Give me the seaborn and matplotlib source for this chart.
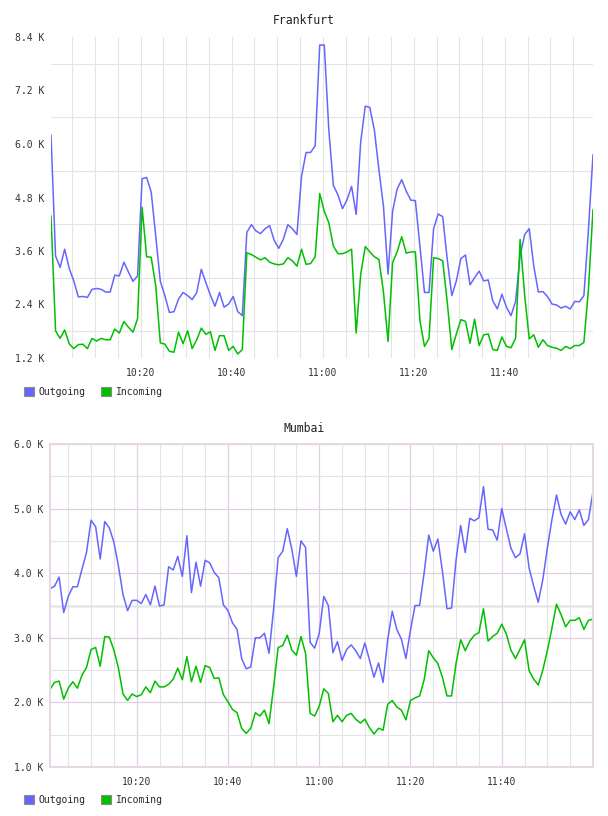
import matplotlib
matplotlib.use("Agg")
import numpy as np
import pandas as pd
import seaborn as sns
import matplotlib.pyplot as plt
import matplotlib.dates as mdates
from matplotlib.patches import Patch
from matplotlib.ticker import FixedLocator, FuncFormatter

# traffic in K, one sample per minute
fra_start = "2024-01-01 10:00:20"
fra_out = [6.20, 3.49, 3.23, 3.64, 3.21, 2.93, 2.57, 2.58, 2.56, 2.74,
           2.76, 2.74, 2.68, 2.68, 3.06, 3.04, 3.35, 3.13, 2.92, 3.04,
           5.22, 5.25, 4.92, 3.93, 2.92, 2.60, 2.22, 2.24, 2.52, 2.67,
           2.60, 2.51, 2.67, 3.19, 2.89, 2.61, 2.36, 2.67, 2.34, 2.41,
           2.58, 2.24, 2.15, 4.02, 4.19, 4.05, 3.99, 4.10, 4.17, 3.84,
           3.66, 3.86, 4.19, 4.10, 3.97, 5.27, 5.81, 5.81, 5.96,
           8.22, 8.22, 6.31, 5.07, 4.86, 4.55, 4.75, 5.05, 4.42, 6.05,
           6.85, 6.82, 6.31, 5.42, 4.60, 3.08, 4.49, 4.99, 5.20, 4.94,
           4.74, 4.73, 3.71, 2.67, 2.67, 4.10, 4.43, 4.37, 3.41, 2.60,
           2.93, 3.43, 3.51, 2.84, 3.00, 3.15, 2.93, 2.95, 2.48, 2.30,
           2.63, 2.34, 2.15, 2.47, 3.49, 3.97, 4.10, 3.26, 2.68, 2.69,
           2.58, 2.41, 2.39, 2.32, 2.36, 2.30, 2.47, 2.46, 2.60, 4.08, 5.76]
fra_in = [4.39, 1.81, 1.64, 1.83, 1.52, 1.41, 1.50, 1.51, 1.41, 1.64,
          1.58, 1.64, 1.61, 1.61, 1.85, 1.76, 2.02, 1.89, 1.78, 2.08,
          4.58, 3.47, 3.46, 2.82, 1.54, 1.51, 1.35, 1.33, 1.78, 1.52,
          1.81, 1.41, 1.61, 1.87, 1.73, 1.79, 1.37, 1.70, 1.70, 1.37,
          1.46, 1.29, 1.39, 3.56, 3.52, 3.46, 3.40, 3.45, 3.35, 3.31,
          3.29, 3.31, 3.45, 3.38, 3.26, 3.64, 3.30, 3.32, 3.47,
          4.89, 4.49, 4.23, 3.71, 3.54, 3.54, 3.58, 3.64, 1.76, 3.08,
          3.70, 3.58, 3.47, 3.41, 2.67, 1.57, 3.34, 3.58, 3.92, 3.55,
          3.58, 3.58, 2.04, 1.46, 1.64, 3.45, 3.43, 3.38, 2.45, 1.39,
          1.74, 2.06, 2.02, 1.53, 2.07, 1.48, 1.72, 1.74, 1.39, 1.37,
          1.67, 1.46, 1.43, 1.64, 3.86, 2.60, 1.63, 1.72, 1.44, 1.61,
          1.48, 1.44, 1.42, 1.37, 1.46, 1.41, 1.48, 1.48, 1.55, 2.74, 4.53]

mum_start = "2024-01-01 10:01:00"
mum_out = [3.76, 3.80, 3.94, 3.39, 3.64, 3.79, 3.79, 4.06, 4.32, 4.82,
           4.72, 4.22, 4.80, 4.70, 4.48, 4.11, 3.67, 3.42, 3.58, 3.58,
           3.53, 3.67, 3.51, 3.80, 3.49, 3.51, 4.10, 4.05, 4.26, 3.95,
           4.58, 3.70, 4.17, 3.80, 4.20, 4.16, 4.01, 3.93, 3.51, 3.42,
           3.23, 3.13, 2.68, 2.52, 2.55, 3.00, 3.00, 3.07, 2.76, 3.44,
           4.24, 4.34, 4.69, 4.37, 3.95, 4.50, 4.40, 2.93,
           2.84, 3.07, 3.64, 3.50, 2.77, 2.94, 2.65, 2.82, 2.89, 2.80,
           2.68, 2.92, 2.66, 2.39, 2.61, 2.31, 2.97, 3.41, 3.13, 2.98,
           2.68, 3.12, 3.50, 3.50, 4.01, 4.59, 4.34, 4.53, 4.03, 3.45,
           3.46, 4.21, 4.74, 4.32, 4.85, 4.81, 4.86, 5.34, 4.68, 4.67,
           4.51, 5.00, 4.69, 4.39, 4.24, 4.30, 4.61, 4.08, 3.80, 3.55,
           3.90, 4.39, 4.83, 5.21, 4.91, 4.76, 4.95, 4.83, 4.98, 4.74, 4.83, 5.26]
mum_in = [2.20, 2.31, 2.33, 2.05, 2.22, 2.32, 2.22, 2.42, 2.54, 2.82,
          2.85, 2.56, 3.02, 3.01, 2.81, 2.53, 2.13, 2.03, 2.13, 2.09,
          2.12, 2.24, 2.15, 2.33, 2.24, 2.24, 2.28, 2.36, 2.53, 2.35,
          2.71, 2.32, 2.56, 2.31, 2.57, 2.54, 2.37, 2.38, 2.12, 2.01,
          1.89, 1.84, 1.60, 1.52, 1.60, 1.84, 1.79, 1.88, 1.67, 2.24,
          2.85, 2.88, 3.04, 2.81, 2.73, 3.02, 2.76, 1.83,
          1.79, 1.94, 2.21, 2.14, 1.70, 1.80, 1.70, 1.80, 1.83, 1.74,
          1.68, 1.74, 1.61, 1.51, 1.60, 1.57, 1.97, 2.03, 1.93, 1.88,
          1.73, 2.03, 2.07, 2.10, 2.35, 2.80, 2.69, 2.60, 2.39, 2.10,
          2.10, 2.61, 2.97, 2.80, 2.95, 3.04, 3.08, 3.45, 2.95, 3.02,
          3.07, 3.21, 3.06, 2.81, 2.68, 2.82, 2.97, 2.49, 2.36, 2.27,
          2.50, 2.80, 3.15, 3.52, 3.36, 3.17, 3.27, 3.27, 3.31, 3.13, 3.27, 3.29]

tick_labels = ["10:20", "10:40", "11:00", "11:20", "11:40"]
series = ["Outgoing", "Incoming"]
colors = ["#6666ff", "#00c000"]

sns.set_theme(style="white")
plt.rcParams["font.family"] = ["DejaVu Sans Mono"]

GREY = "#e4e4e4"
PURPLE = "#e2d0e2"


def panel(ax, start, out, inc, ylo, yhi, ystep, purple):
    t = pd.date_range(start, periods=len(out), freq="min")
    df = pd.DataFrame({"time": list(t) * 2, "value": out + inc,
                       "series": [series[0]] * len(out) + [series[1]] * len(inc)})
    sns.lineplot(data=df, x="time", y="value", hue="series", hue_order=series,
                 palette=colors, ax=ax, linewidth=1.1, legend=False)
    ax.set_xlim(t[0], t[-1])
    ax.set_ylim(ylo, yhi)
    ax.set_xlabel("")
    ax.set_ylabel("")

    day = t[0].normalize()
    major = [day + pd.Timedelta(hours=int(s[:2]), minutes=int(s[3:])) for s in tick_labels]
    ax.xaxis.set_major_locator(FixedLocator(mdates.date2num(major)))
    ax.xaxis.set_major_formatter(mdates.DateFormatter("%H:%M"))
    ax.xaxis.set_minor_locator(mdates.MinuteLocator(byminute=range(0, 60, 5)))

    yt = np.round(np.arange(ylo, yhi + 1e-6, ystep), 2)
    ax.yaxis.set_major_locator(FixedLocator(yt))
    ax.yaxis.set_minor_locator(FixedLocator(yt[:-1] + ystep / 2))
    ax.yaxis.set_major_formatter(FuncFormatter(lambda v, p: f"{v:.1f} K"))

    ax.tick_params(which="both", length=0, labelsize=7, labelcolor="#333333")
    ax.tick_params(axis="y", pad=5)
    ax.tick_params(axis="x", pad=7)
    ax.set_axisbelow(True)
    ax.grid(False)
    if purple:
        ax.xaxis.grid(True, which="major", color=PURPLE, lw=0.9)
        ax.yaxis.grid(True, which="major", color=PURPLE, lw=0.9)
        ax.xaxis.grid(True, which="minor", color=GREY, lw=0.8)
        ax.yaxis.grid(True, which="minor", color=GREY, lw=0.8)
        ax.axhline(3.5, color="#eeeeee", lw=2, zorder=0)
        for s in ax.spines.values():
            s.set_visible(True)
            s.set_color("#e6d8e6")
            s.set_linewidth(1.5)
    else:
        ax.xaxis.grid(True, which="both", color=GREY, lw=0.8)
        ax.yaxis.grid(True, which="minor", color=GREY, lw=0.8)
        for s in ax.spines.values():
            s.set_visible(False)


fig = plt.figure(figsize=(6.08, 8.16), dpi=100)
ax1 = fig.add_axes([51 / 608, 1 - 358 / 816, 542 / 608, 321 / 816])
ax2 = fig.add_axes([50 / 608, 1 - 767 / 816, 543 / 608, 323 / 816])

panel(ax1, fra_start, fra_out, fra_in, 1.2, 8.4, 1.2, False)
panel(ax2, mum_start, mum_out, mum_in, 1.0, 6.0, 1.0, True)

fig.text(0.5, 1 - 20 / 816, "Frankfurt", ha="center", va="center", fontsize=8.3, color="#222222")
fig.text(0.5, 1 - 429 / 816, "Mumbai", ha="center", va="center", fontsize=8.3, color="#222222")

handles = [Patch(facecolor=c, edgecolor="#8a8a8a", linewidth=0.8) for c in colors]
for yc in (392, 800):
    fig.legend(handles, series, loc="center left", bbox_to_anchor=(24 / 608, 1 - yc / 816),
               ncol=2, frameon=False, prop={"size": 7}, handlelength=1.0, handleheight=1.0,
               handletextpad=0.5, columnspacing=1.6, borderpad=0, borderaxespad=0)

fig.savefig("out.png", dpi=100)
